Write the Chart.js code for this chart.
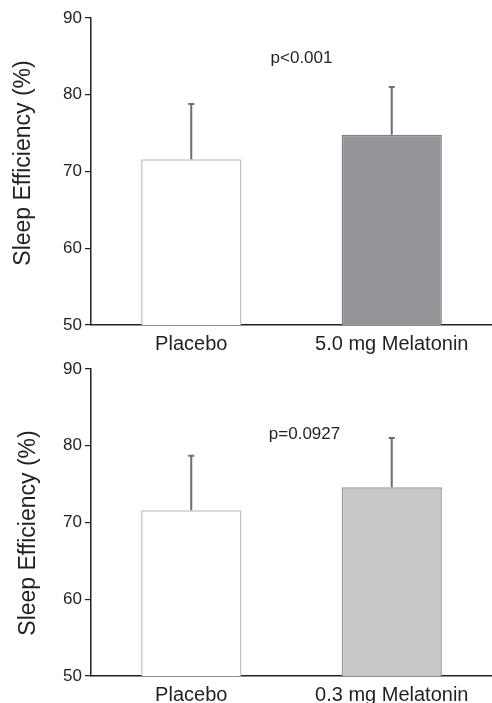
<!DOCTYPE html>
<html>
<head>
<meta charset="utf-8">
<script src="https://cdn.jsdelivr.net/npm/chart.js@4.4.1/dist/chart.umd.min.js"></script>
<style>
  body { margin: 0; background: #fff; }
  .panel { position: absolute; left: 0; width: 492px; }
  #top { top: 0; height: 362px; }
  #bottom { top: 350px; height: 353px; }
</style>
</head>
<body>
<div class="panel" id="top"><canvas id="chartTop"></canvas></div>
<div class="panel" id="bottom"><canvas id="chartBottom"></canvas></div>
<script>
// data
const topLabels = ['Placebo', '5.0 mg Melatonin'];
const bottomLabels = ['Placebo', '0.3 mg Melatonin'];
const topMeans = [71.6, 74.8];
const topUpper = [78.8, 81.0];
const bottomMeans = [71.6, 74.6];
const bottomUpper = [78.7, 81.0];
const yTicks = [50, 60, 70, 80, 90];
const yTitle = 'Sleep Efficiency (%)';

const ink = '#231f20';
const fontFamily = '"Liberation Sans", Arial, Helvetica, sans-serif';

// upward-only error bars with a small cap
const errorBars = {
    id: 'errorBars',
    afterDatasetsDraw(chart, args, opts) {
        const ctx = chart.ctx;
        const meta = chart.getDatasetMeta(0);
        const y = chart.scales.y;
        ctx.save();
        ctx.strokeStyle = '#6d6e71';
        ctx.lineWidth = 2;
        opts.upper.forEach((up, i) => {
            const bar = meta.data[i];
            const yTop = y.getPixelForValue(up);
            ctx.beginPath();
            ctx.moveTo(bar.x, bar.y);
            ctx.lineTo(bar.x, yTop);
            ctx.moveTo(bar.x - 3, yTop);
            ctx.lineTo(bar.x + 3, yTop);
            ctx.stroke();
        });
        ctx.restore();
    }
};

// p value text and the rotated y title
const notes = {
    id: 'notes',
    afterDraw(chart, args, opts) {
        const ctx = chart.ctx;
        const xs = chart.scales.x, ys = chart.scales.y;
        ctx.save();
        ctx.fillStyle = ink;
        ctx.font = '17px ' + fontFamily;
        ctx.textAlign = 'center';
        ctx.textBaseline = 'middle';
        ctx.fillText(opts.pText, xs.getPixelForValue(opts.pX), ys.getPixelForValue(opts.pY));

        ctx.translate(opts.titleX, opts.titleY);
        ctx.rotate(-Math.PI / 2);
        ctx.font = '23px ' + fontFamily;
        ctx.fillText(yTitle, 0, 0);
        ctx.restore();
    }
};

function makeChart(id, labels, means, upper, fill, border, pText, pX, pY, padTop, xHeight, titleX, titleY) {
    return new Chart(document.getElementById(id), {
        type: 'bar',
        data: {
            labels: labels,
            datasets: [{
                data: means,
                backgroundColor: ['#ffffff', fill],
                borderColor: ['#bcbec0', border],
                borderWidth: 1.5,
                categoryPercentage: 1.0,
                barPercentage: 0.5
            }]
        },
        options: {
            responsive: true,
            maintainAspectRatio: false,
            animation: false,
            layout: { padding: { top: padTop, right: 0, left: 0, bottom: 0 } },
            plugins: {
                legend: { display: false },
                tooltip: { enabled: false },
                errorBars: { upper: upper },
                notes: { pText: pText, pX: pX, pY: pY, titleX: titleX, titleY: titleY }
            },
            scales: {
                x: {
                    grid: { display: true, drawOnChartArea: false, drawTicks: false },
                    border: { color: ink, width: 1.5 },
                    ticks: { color: ink, padding: 7, font: { family: fontFamily, size: 20 } },
                    afterFit: s => { s.height = xHeight; }
                },
                y: {
                    min: 50,
                    max: 90,
                    afterBuildTicks: s => { s.ticks = yTicks.map(v => ({ value: v })); },
                    grid: { display: true, drawOnChartArea: false, drawTicks: true, tickLength: 6, color: ink, lineWidth: 1.2 },
                    border: { color: ink, width: 1.5 },
                    ticks: { color: ink, padding: 3, font: { family: fontFamily, size: 17 } },
                    afterFit: s => { s.width = 91; }
                }
            }
        },
        plugins: [errorBars, notes]
    });
}

makeChart('chartTop', topLabels, topMeans, topUpper, '#939598', '#808285',
    'p<0.001', 0.55, 84.7, 18, 37, 24, 163);
makeChart('chartBottom', bottomLabels, bottomMeans, bottomUpper, '#c7c8ca', '#97999b',
    'p=0.0927', 0.565, 81.5, 19, 27, 29, 183);
</script>
</body>
</html>
